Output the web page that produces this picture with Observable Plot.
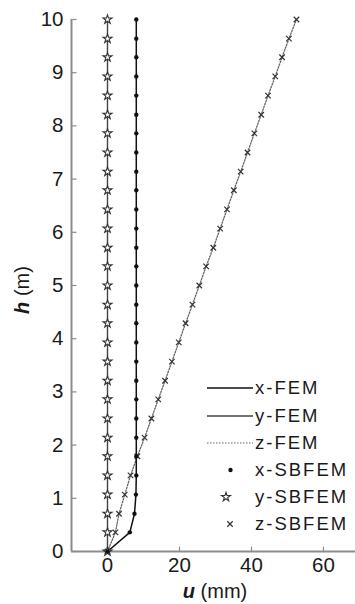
<!DOCTYPE html>
<html>
<head>
<meta charset="utf-8">
<script src="https://cdn.jsdelivr.net/npm/d3@7"></script>
<script src="https://cdn.jsdelivr.net/npm/@observablehq/plot@0.6"></script>
<style>
  html, body { margin: 0; padding: 0; background: #fff; }
  #chart svg { display: block; }
</style>
</head>
<body>
<div id="chart"></div>
<script>
// Heights (m) of the sampled nodes
const h = [0, 0.36, 0.71, 1.07, 1.43, 1.79, 2.14, 2.5, 2.86, 3.21, 3.57, 3.93, 4.29, 4.64, 5,
  5.36, 5.71, 6.07, 6.43, 6.79, 7.14, 7.5, 7.86, 8.21, 8.57, 8.93, 9.29, 9.64, 10];
// Displacements u (mm)
const uX = [0, 6.2, 7.5, 7.9, 8, 8, 8, 8, 8, 8, 8, 8, 8, 8, 8,
  8, 8, 8, 8, 8, 8, 8, 8, 8, 8, 8, 8, 8, 8];
const uY = [0, 0, 0, 0, 0, 0, 0, 0, 0, 0, 0, 0, 0, 0, 0,
  0, 0, 0, 0, 0, 0, 0, 0, 0, 0, 0, 0, 0, 0];
const uZ = [0, 2.2, 3.2, 4.8, 6.4, 8.3, 10.3, 12.2, 14.1, 16.0, 17.9, 19.8, 21.7, 23.6, 25.5,
  27.4, 29.4, 31.3, 33.2, 35.1, 37.0, 38.9, 40.8, 42.7, 44.6, 46.6, 48.5, 50.4, 52.5];

const xTicks = [0, 20, 40, 60];
const yTicks = [0, 1, 2, 3, 4, 5, 6, 7, 8, 9, 10];
const legendLabels = ["x-FEM", "y-FEM", "z-FEM", "x-SBFEM", "y-SBFEM", "z-SBFEM"];

const rows = (vals) => h.map((hv, i) => ({h: hv, u: vals[i]}));
const dx = rows(uX), dy = rows(uY), dz = rows(uZ);

const axisColor = "#8c8c8c";
const tickUp = {draw(ctx) { ctx.moveTo(0, 0); ctx.lineTo(0, -5); }};
const tickRight = {draw(ctx) { ctx.moveTo(0, 0); ctx.lineTo(5, 0); }};

const svg = Plot.plot({
  width: 355,
  height: 604,
  marginTop: 19,
  marginBottom: 53,
  marginLeft: 71,
  marginRight: 0,
  x: {domain: [-10, 68.9]},
  y: {domain: [0, 10]},
  style: {fontFamily: "'Liberation Sans', Arial, Helvetica, sans-serif", background: "#fff", color: "#1a1a1a", overflow: "visible"},
  marks: [
    Plot.axisX({ticks: xTicks, tickSize: 0, tickPadding: 6, fontSize: 20.5, label: null, tickFormat: d => String(d)}),
    Plot.axisY({ticks: yTicks, tickSize: 0, tickPadding: 8, fontSize: 20.5, label: null, tickFormat: d => String(d)}),
    Plot.ruleY([0], {stroke: axisColor, strokeWidth: 2}),
    Plot.ruleX([-10], {stroke: axisColor, strokeWidth: 2}),
    Plot.dot(xTicks, {x: d => d, y: 0, symbol: tickUp, fill: "none", stroke: axisColor, strokeWidth: 1.2}),
    Plot.dot(yTicks, {x: -10, y: d => d, symbol: tickRight, fill: "none", stroke: axisColor, strokeWidth: 1.2}),
    // FEM lines
    Plot.line(dz, {x: "u", y: "h", stroke: "#666", strokeWidth: 1.3, strokeDasharray: "1.5,1.5"}),
    Plot.line(dy, {x: "u", y: "h", stroke: "#444", strokeWidth: 1.4}),
    Plot.line(dx, {x: "u", y: "h", stroke: "#111", strokeWidth: 1.5}),
    // SBFEM markers
    Plot.dot(dz, {x: "u", y: "h", symbol: "times", r: 2.6, stroke: "#333", strokeWidth: 1.2}),
    Plot.dot(dy, {x: "u", y: "h", symbol: "star", r: 2.8, fill: "#fff", stroke: "#333", strokeWidth: 1.1}),
    Plot.dot(dx, {x: "u", y: "h", symbol: "circle", r: 2.2, fill: "#111", stroke: "none"})
  ]
});

document.getElementById("chart").appendChild(svg);

const s = d3.select(svg);
const font = "'Liberation Sans', Arial, Helvetica, sans-serif";

// Axis titles
const xl = s.append("text").attr("x", 215).attr("y", 598).attr("text-anchor", "middle")
  .attr("font-family", font).attr("font-size", 20).attr("fill", "#1a1a1a");
xl.append("tspan").attr("font-style", "italic").attr("font-weight", "bold").text("u");
xl.append("tspan").text(" (mm)");

const yl = s.append("text").attr("transform", "translate(29,290) rotate(-90)").attr("text-anchor", "middle")
  .attr("font-family", font).attr("font-size", 20).attr("fill", "#1a1a1a");
yl.append("tspan").attr("font-style", "italic").attr("font-weight", "bold").text("h");
yl.append("tspan").text(" (m)");

// Legend
const legendY = [388, 416, 443, 470, 497, 524];
const lg = s.append("g").attr("font-family", font).attr("font-size", 18.5).attr("fill", "#1a1a1a")
  .attr("text-anchor", "start");
legendLabels.forEach((lab, i) => {
  lg.append("text").attr("x", 255).attr("y", legendY[i]).attr("dy", "0.35em")
    .attr("text-anchor", "start").attr("letter-spacing", "2px").text(lab);
});
lg.append("line").attr("x1", 207).attr("x2", 253).attr("y1", legendY[0]).attr("y2", legendY[0])
  .attr("stroke", "#111").attr("stroke-width", 1.3);
lg.append("line").attr("x1", 207).attr("x2", 253).attr("y1", legendY[1]).attr("y2", legendY[1])
  .attr("stroke", "#444").attr("stroke-width", 1.3);
lg.append("line").attr("x1", 207).attr("x2", 253).attr("y1", legendY[2]).attr("y2", legendY[2])
  .attr("stroke", "#666").attr("stroke-width", 1.2).attr("stroke-dasharray", "1.5,1.5");
lg.append("circle").attr("cx", 230.5).attr("cy", legendY[3]).attr("r", 2.2).attr("fill", "#111");
lg.append("path").attr("d", d3.symbol(d3.symbolStar, 2.8 * 2.8 * Math.PI)())
  .attr("transform", `translate(226,${legendY[4]})`).attr("fill", "#fff").attr("stroke", "#333").attr("stroke-width", 1.1);
lg.append("path").attr("d", d3.symbol(d3.symbolTimes, 2.6 * 2.6 * Math.PI)())
  .attr("transform", `translate(230,${legendY[5]})`).attr("fill", "none").attr("stroke", "#333").attr("stroke-width", 1.2);
</script>
</body>
</html>
